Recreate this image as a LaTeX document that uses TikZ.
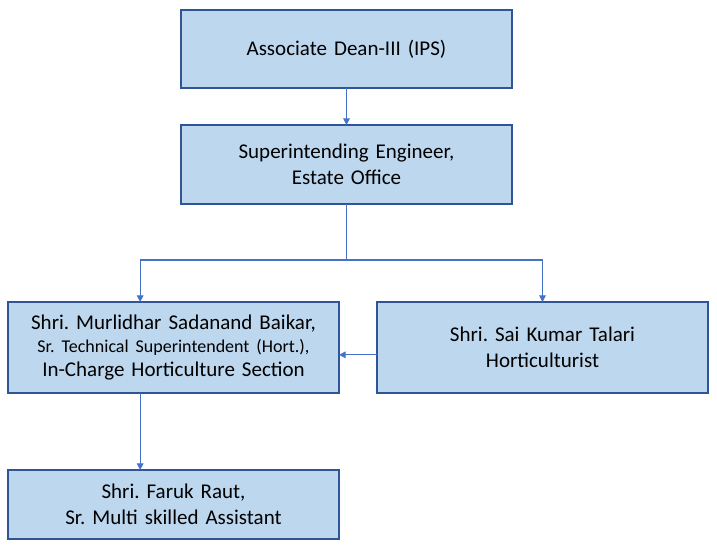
\documentclass[tikz,border=0pt]{standalone}
\usepackage{fontspec}
\setmainfont{Carlito}
\usepackage{xcolor}
\definecolor{colorBox}{RGB}{189,215,238}
\definecolor{colorBorder}{RGB}{47,85,151}
\definecolor{colorLink}{RGB}{68,114,196}
\usetikzlibrary{arrows.meta, positioning}
\frenchspacing
\tikzset{office/.style={draw=colorBorder, fill=colorBox, line width=1.1pt, outer sep=0pt, align=center,
    text width=236pt, minimum width=248.25pt, font=\fontsize{15.75}{19.5}\selectfont},
  link/.style={draw=colorLink, line width=0.8pt}}

\begin{document}
\begin{tikzpicture}[x=0.75pt, y=-0.75pt, >={Triangle[length=5pt, width=5pt]}]
\useasboundingbox (0,0) rectangle (717,550);
\node[office, minimum height=58.5pt] (dean) at (346.5,49) {Associate Dean-III (IPS)};
\node[office, minimum height=59.25pt, below=27.75pt of dean] (se) {Superintending Engineer,\\Estate Office};
\node[office, minimum height=68.25pt, below=73.5pt of se, xshift=-129.75pt] (baikar) {Shri. Murlidhar Sadanand Baikar,\\[-2pt]{\fontsize{13.5}{16}\selectfont Sr. Technical Superintendent (Hort.),}\\[-2pt]In-Charge Horticulture Section};
\node[office, minimum height=68.25pt, right=28.5pt of baikar] (talari) {Shri. Sai Kumar Talari\\Horticulturist};
\node[office, minimum height=51.75pt, below=57.75pt of baikar] (raut) {Shri. Faruk Raut,\\Sr. Multi skilled Assistant};
\coordinate[below=42pt of se.south] (fork);
\draw[link, ->] (dean) -- (se);
\draw[link, ->] (se.south) -- (fork) -| (talari.north);
\draw[link, ->] (fork) -| ([xshift=-25pt]baikar.north);
\draw[link, ->] ([yshift=-5.5pt]talari.west) -- ([yshift=-5.5pt]baikar.east);
\draw[link, ->] ([xshift=-25pt]baikar.south) -- ([xshift=-25pt]raut.north);
\end{tikzpicture}
\end{document}
